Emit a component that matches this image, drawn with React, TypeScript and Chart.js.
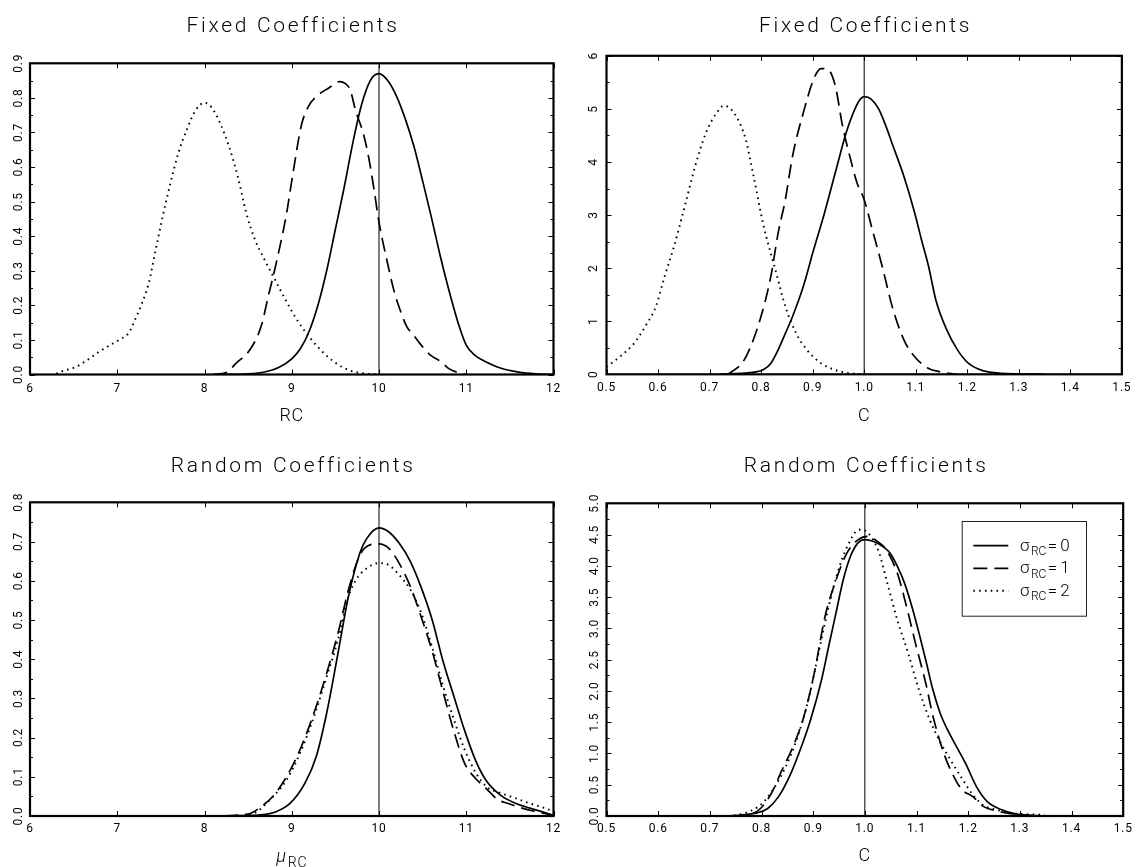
import React, { useEffect, useRef } from "react";
import { Chart, registerables } from "chart.js";

Chart.register(...registerables);

const FONT = "Roboto, 'DejaVu Sans', sans-serif";

// ---------- text ----------
const titleFixed = "Fixed Coefficients";
const titleRandom = "Random Coefficients";
const xTitleRC = "RC";
const xTitleC = "C";
const xTitleMu = "μ";
const xTitleMuSub = "RC";
const legendSymbol = "σ";
const legendSub = "RC";
const legendValues = ["0", "1", "2"];

// ---------- tick labels ----------
const rcXTickLabels = ["6", "7", "8", "9", "10", "11", "12"];
const cXTickLabels = ["0.5", "0.6", "0.7", "0.8", "0.9", "1.0", "1.1", "1.2", "1.3", "1.4", "1.5"];
const fixRcYTickLabels = ["0.0", "0.1", "0.2", "0.3", "0.4", "0.5", "0.6", "0.7", "0.8", "0.9"];
const fixCYTickLabels = ["0", "1", "2", "3", "4", "5", "6"];
const ranRcYTickLabels = ["0.0", "0.1", "0.2", "0.3", "0.4", "0.5", "0.6", "0.7", "0.8"];
const ranCYTickLabels = ["0.0", "0.5", "1.0", "1.5", "2.0", "2.5", "3.0", "3.5", "4.0", "4.5", "5.0"];

// ---------- reference (true value) lines ----------
const refRcX = [10, 10];
const refCX = [1, 1];
const fixRcRefY = [0, 0.9];
const fixCRefY = [0, 6];
const ranRcRefY = [0, 0.8];
const ranCRefY = [0, 5];

// ---------- Fixed Coefficients, RC ----------
const fixRcX0 = [8.1, 8.5, 8.7, 8.85, 9.0, 9.1, 9.2, 9.3, 9.4, 9.5, 9.6, 9.7, 9.8, 9.9, 10.0, 10.1, 10.2, 10.3, 10.4, 10.5, 10.6, 10.7, 10.8, 10.9, 11.0, 11.1, 11.2, 11.4, 11.6, 11.8, 12.0];
const fixRcY0 = [0, 0.002, 0.008, 0.02, 0.045, 0.075, 0.125, 0.2, 0.3, 0.42, 0.54, 0.67, 0.78, 0.85, 0.87, 0.85, 0.805, 0.74, 0.66, 0.56, 0.455, 0.345, 0.245, 0.155, 0.085, 0.055, 0.04, 0.018, 0.007, 0.002, 0];
const fixRcX1 = [8.1, 8.25, 8.36, 8.53, 8.65, 8.73, 8.82, 8.94, 9.0, 9.11, 9.19, 9.3, 9.42, 9.55, 9.61, 9.67, 9.73, 9.82, 9.88, 9.94, 10.0, 10.09, 10.17, 10.23, 10.32, 10.38, 10.5, 10.59, 10.71, 10.8, 10.94, 11.0];
const fixRcY1 = [0, 0.006, 0.032, 0.075, 0.14, 0.225, 0.32, 0.465, 0.56, 0.72, 0.775, 0.808, 0.828, 0.847, 0.842, 0.823, 0.765, 0.697, 0.63, 0.54, 0.44, 0.331, 0.244, 0.195, 0.138, 0.119, 0.08, 0.056, 0.037, 0.017, 0.003, 0];
const fixRcX2 = [6.3, 6.38, 6.51, 6.64, 6.77, 6.89, 7.02, 7.13, 7.21, 7.28, 7.36, 7.44, 7.52, 7.6, 7.7, 7.8, 7.9, 8.0, 8.08, 8.18, 8.28, 8.38, 8.48, 8.58, 8.68, 8.8, 8.92, 9.05, 9.2, 9.35, 9.5, 9.65, 9.8, 10.0];
const fixRcY2 = [0.002, 0.0104, 0.02, 0.039, 0.062, 0.081, 0.1, 0.12, 0.162, 0.204, 0.263, 0.36, 0.456, 0.543, 0.64, 0.71, 0.765, 0.786, 0.773, 0.726, 0.66, 0.574, 0.466, 0.389, 0.336, 0.278, 0.22, 0.162, 0.109, 0.066, 0.034, 0.013, 0.004, 0];

// ---------- Fixed Coefficients, C ----------
const fixCX0 = [0.72, 0.777, 0.805, 0.819, 0.833, 0.847, 0.861, 0.882, 0.902, 0.923, 0.944, 0.965, 0.979, 0.99, 1.0, 1.014, 1.028, 1.042, 1.056, 1.077, 1.098, 1.111, 1.125, 1.139, 1.16, 1.181, 1.202, 1.23, 1.265, 1.35];
const fixCY0 = [0, 0.03, 0.09, 0.21, 0.46, 0.77, 1.09, 1.66, 2.35, 3.04, 3.8, 4.55, 4.93, 5.15, 5.23, 5.18, 5.0, 4.68, 4.3, 3.73, 3.04, 2.54, 2.03, 1.4, 0.84, 0.46, 0.21, 0.07, 0.02, 0];
const fixCX1 = [0.735, 0.763, 0.777, 0.798, 0.819, 0.833, 0.847, 0.861, 0.882, 0.902, 0.916, 0.93, 0.944, 0.958, 0.972, 0.986, 1.0, 1.014, 1.035, 1.056, 1.077, 1.098, 1.125, 1.146, 1.18];
const fixCY1 = [0, 0.21, 0.46, 1.03, 1.85, 2.66, 3.29, 4.11, 4.93, 5.56, 5.76, 5.74, 5.43, 4.68, 4.11, 3.61, 3.29, 2.79, 2.03, 1.22, 0.65, 0.33, 0.11, 0.05, 0];
const fixCX2 = [0.5, 0.526, 0.554, 0.575, 0.596, 0.613, 0.631, 0.652, 0.672, 0.693, 0.714, 0.728, 0.749, 0.77, 0.784, 0.805, 0.826, 0.847, 0.868, 0.889, 0.916, 0.944, 0.972, 1.0];
const fixCY2 = [0.14, 0.33, 0.59, 0.9, 1.28, 1.85, 2.41, 3.17, 3.92, 4.55, 4.93, 5.06, 4.9, 4.43, 3.8, 2.79, 2.03, 1.28, 0.77, 0.46, 0.21, 0.08, 0.02, 0];

// ---------- Random Coefficients, mu_RC ----------
const ranRcX0 = [6.3, 7.0, 8.0, 8.4, 8.65, 8.82, 8.98, 9.15, 9.28, 9.4, 9.53, 9.65, 9.78, 9.86, 10.0, 10.11, 10.23, 10.36, 10.48, 10.61, 10.73, 10.86, 10.98, 11.11, 11.23, 11.4, 11.57, 11.73, 11.9, 12.0];
const ranRcY0 = [0, 0, 0, 0.001, 0.003, 0.011, 0.032, 0.083, 0.151, 0.262, 0.415, 0.56, 0.67, 0.708, 0.735, 0.725, 0.696, 0.649, 0.585, 0.5, 0.398, 0.304, 0.219, 0.14, 0.09, 0.052, 0.032, 0.02, 0.0085, 0.001];
const ranRcX1 = [6.3, 8.0, 8.5, 8.65, 8.78, 8.94, 9.11, 9.28, 9.4, 9.53, 9.65, 9.78, 9.88, 10.0, 10.11, 10.23, 10.36, 10.48, 10.61, 10.73, 10.86, 10.98, 11.11, 11.23, 11.36, 11.48, 11.61, 11.78, 12.0];
const ranRcY1 = [0, 0, 0.005, 0.024, 0.049, 0.1, 0.177, 0.279, 0.364, 0.466, 0.577, 0.665, 0.69, 0.694, 0.683, 0.645, 0.585, 0.51, 0.42, 0.32, 0.215, 0.135, 0.095, 0.07, 0.042, 0.032, 0.022, 0.012, 0.002];
const ranRcX2 = [8.45, 8.6, 8.73, 8.94, 9.11, 9.28, 9.4, 9.53, 9.65, 9.73, 9.86, 10.0, 10.11, 10.23, 10.36, 10.48, 10.61, 10.73, 10.86, 10.98, 11.11, 11.23, 11.4, 11.57, 11.73, 11.9, 12.0];
const ranRcY2 = [0, 0.011, 0.037, 0.092, 0.168, 0.27, 0.355, 0.449, 0.56, 0.6, 0.632, 0.645, 0.64, 0.615, 0.577, 0.52, 0.43, 0.335, 0.245, 0.17, 0.11, 0.075, 0.058, 0.045, 0.032, 0.02, 0.012];

// ---------- Random Coefficients, C ----------
const ranCX0 = [0.5, 0.7, 0.76, 0.791, 0.812, 0.833, 0.854, 0.875, 0.895, 0.916, 0.93, 0.944, 0.958, 0.972, 0.986, 1.0, 1.017, 1.035, 1.049, 1.063, 1.077, 1.091, 1.105, 1.118, 1.132, 1.146, 1.16, 1.174, 1.195, 1.216, 1.237, 1.265, 1.293, 1.32, 1.35];
const ranCY0 = [0, 0, 0.016, 0.05, 0.12, 0.31, 0.63, 1.06, 1.54, 2.17, 2.71, 3.24, 3.77, 4.15, 4.36, 4.42, 4.39, 4.31, 4.2, 3.99, 3.72, 3.35, 2.92, 2.49, 2.01, 1.64, 1.38, 1.16, 0.84, 0.47, 0.23, 0.1, 0.03, 0.01, 0];
const ranCX1 = [0.5, 0.75, 0.78, 0.798, 0.819, 0.84, 0.861, 0.882, 0.902, 0.923, 0.944, 0.965, 0.986, 1.007, 1.021, 1.042, 1.063, 1.084, 1.098, 1.118, 1.132, 1.153, 1.174, 1.188, 1.209, 1.23, 1.251, 1.279, 1.307, 1.33];
const ranCY1 = [0, 0, 0.03, 0.12, 0.36, 0.74, 1.11, 1.59, 2.28, 3.19, 3.77, 4.2, 4.41, 4.47, 4.41, 4.25, 3.88, 3.24, 2.76, 2.12, 1.59, 1.0, 0.6, 0.42, 0.31, 0.15, 0.09, 0.04, 0.016, 0];
const ranCX2 = [0.5, 0.73, 0.76, 0.784, 0.805, 0.826, 0.847, 0.868, 0.889, 0.909, 0.93, 0.951, 0.972, 0.986, 0.993, 1.007, 1.028, 1.042, 1.063, 1.084, 1.105, 1.125, 1.146, 1.167, 1.188, 1.209, 1.23, 1.251, 1.279, 1.307, 1.348];
const ranCY2 = [0, 0, 0.03, 0.1, 0.23, 0.47, 0.79, 1.22, 1.8, 2.55, 3.35, 3.99, 4.41, 4.57, 4.58, 4.52, 4.2, 3.77, 3.13, 2.6, 2.01, 1.55, 1.18, 0.88, 0.6, 0.34, 0.17, 0.11, 0.05, 0.03, 0.02];

// ---------- styles ----------
const seriesDash: number[][] = [[], [14, 7], [1.6, 4.2]];
const seriesWidth = [1.7, 1.7, 1.9];

type PanelSpec = {
  key: string;
  left: number;
  top: number;
  w: number;
  h: number;
  area: { left: number; right: number; top: number; bottom: number };
  xMin: number;
  xMax: number;
  yMax: number;
  xLabels: string[];
  yLabels: string[];
  yLabelPad: number;
  xLabelPad: number;
  title: string;
  titleBaseline: number;
  xTitle: string;
  xTitleSub?: string;
  xTitleOffset: number;
  series: { x: number[]; y: number[] }[];
  ref: { x: number[]; y: number[] };
  legend?: boolean;
};

const panels: PanelSpec[] = [
  {
    key: "fixRc", left: 0, top: 0, w: 568, h: 432,
    area: { left: 30, right: 553.5, top: 63.3, bottom: 374.5 },
    xMin: 6, xMax: 12, yMax: 0.9,
    xLabels: rcXTickLabels, yLabels: fixRcYTickLabels, yLabelPad: 2.5, xLabelPad: 6.8,
    title: titleFixed, titleBaseline: 31.7,
    xTitle: xTitleRC, xTitleOffset: 46.2,
    series: [{ x: fixRcX0, y: fixRcY0 }, { x: fixRcX1, y: fixRcY1 }, { x: fixRcX2, y: fixRcY2 }],
    ref: { x: refRcX, y: fixRcRefY },
  },
  {
    key: "fixC", left: 568, top: 0, w: 569, h: 432,
    area: { left: 38.5, right: 561, top: 55.8, bottom: 374.3 },
    xMin: 0.5, xMax: 1.5, yMax: 6,
    xLabels: cXTickLabels, yLabels: fixCYTickLabels, yLabelPad: 9.5, xLabelPad: 6.8,
    title: titleFixed, titleBaseline: 31.7,
    xTitle: xTitleC, xTitleOffset: 46.2,
    series: [{ x: fixCX0, y: fixCY0 }, { x: fixCX1, y: fixCY1 }, { x: fixCX2, y: fixCY2 }],
    ref: { x: refCX, y: fixCRefY },
  },
  {
    key: "ranRc", left: 0, top: 432, w: 568, h: 435,
    area: { left: 30, right: 553.5, top: 70.3, bottom: 384 },
    xMin: 6, xMax: 12, yMax: 0.8,
    xLabels: rcXTickLabels, yLabels: ranRcYTickLabels, yLabelPad: 2.7, xLabelPad: 5.5,
    title: titleRandom, titleBaseline: 39.7,
    xTitle: xTitleMu, xTitleSub: xTitleMuSub, xTitleOffset: 46,
    series: [{ x: ranRcX0, y: ranRcY0 }, { x: ranRcX1, y: ranRcY1 }, { x: ranRcX2, y: ranRcY2 }],
    ref: { x: refRcX, y: ranRcRefY },
  },
  {
    key: "ranC", left: 568, top: 432, w: 569, h: 435,
    area: { left: 38.5, right: 561, top: 71.3, bottom: 384 },
    xMin: 0.5, xMax: 1.5, yMax: 5,
    xLabels: cXTickLabels, yLabels: ranCYTickLabels, yLabelPad: 2.9, xLabelPad: 5.5,
    title: titleRandom, titleBaseline: 40,
    xTitle: xTitleC, xTitleOffset: 44.7,
    series: [{ x: ranCX0, y: ranCY0 }, { x: ranCX1, y: ranCY1 }, { x: ranCX2, y: ranCY2 }],
    ref: { x: refCX, y: ranCRefY },
    legend: true,
  },
];

function labelLookup(labels: string[]) {
  return (val: number | string) => {
    const v = Number(val);
    const i = labels.findIndex((l) => Math.abs(parseFloat(l) - v) < 1e-9);
    return i >= 0 ? labels[i] : "";
  };
}

function decorPlugin(spec: PanelSpec) {
  return {
    id: "decor_" + spec.key,
    beforeDraw(chart: any) {
      (chart.ctx as any).letterSpacing = "0.8px";
    },
    afterDraw(chart: any) {
      const ctx: CanvasRenderingContext2D = chart.ctx;
      const a = chart.chartArea;
      const xs = chart.scales.x;
      const ys = chart.scales.y;
      ctx.save();
      ctx.strokeStyle = "#000";
      ctx.fillStyle = "#000";
      ctx.setLineDash([]);

      // inward tick marks
      ctx.lineWidth = 1;
      ctx.beginPath();
      const yVals = spec.yLabels.map((l) => parseFloat(l));
      yVals.forEach((v, i) => {
        const p = Math.round(ys.getPixelForValue(v)) + 0.5;
        ctx.moveTo(a.left, p);
        ctx.lineTo(a.left + 5, p);
        ctx.moveTo(a.right, p);
        ctx.lineTo(a.right - 5, p);
        if (i < yVals.length - 1) {
          const q = Math.round(ys.getPixelForValue((v + yVals[i + 1]) / 2)) + 0.5;
          ctx.moveTo(a.left, q);
          ctx.lineTo(a.left + 3, q);
          ctx.moveTo(a.right, q);
          ctx.lineTo(a.right - 3, q);
        }
      });
      spec.xLabels.forEach((l) => {
        const p = Math.round(xs.getPixelForValue(parseFloat(l))) + 0.5;
        ctx.moveTo(p, a.bottom);
        ctx.lineTo(p, a.bottom - 5);
        ctx.moveTo(p, a.top);
        ctx.lineTo(p, a.top + 5);
      });
      ctx.stroke();

      // frame
      ctx.lineWidth = 2.2;
      ctx.strokeRect(a.left, a.top, a.right - a.left, a.bottom - a.top);

      const cx = (a.left + a.right) / 2;

      // title
      ctx.font = `300 21px ${FONT}`;
      (ctx as any).letterSpacing = "2.7px";
      ctx.textAlign = "center";
      ctx.textBaseline = "alphabetic";
      ctx.fillText(spec.title, cx + 1.35, spec.titleBaseline);

      // x axis title
      (ctx as any).letterSpacing = "0.8px";
      if (!spec.xTitleSub) {
        ctx.font = `300 18px ${FONT}`;
        ctx.textAlign = "center";
        ctx.fillText(spec.xTitle, cx, a.bottom + spec.xTitleOffset);
      } else {
        ctx.font = `italic 300 18px ${FONT}`;
        const w1 = ctx.measureText(spec.xTitle).width;
        ctx.font = `300 14px ${FONT}`;
        const w2 = ctx.measureText(spec.xTitleSub).width;
        const x0 = cx - (w1 + w2 + 1) / 2;
        ctx.textAlign = "left";
        ctx.font = `italic 300 18px ${FONT}`;
        ctx.fillText(spec.xTitle, x0, a.bottom + spec.xTitleOffset);
        ctx.font = `300 14px ${FONT}`;
        ctx.fillText(spec.xTitleSub, x0 + w1 + 1, a.bottom + spec.xTitleOffset + 4.6);
      }

      // legend
      if (spec.legend) {
        const bx = 393.7, by = 89, bw = 124.3, bh = 94.7;
        ctx.lineWidth = 1;
        ctx.strokeStyle = "#222";
        ctx.strokeRect(bx + 0.5, by + 0.5, bw, bh);
        const rows = [113.7, 136.3, 158.7];
        legendValues.forEach((val, i) => {
          const ly = rows[i];
          ctx.strokeStyle = "#000";
          ctx.lineWidth = i === 2 ? 1.9 : 1.7;
          ctx.setLineDash(seriesDash[i]);
          ctx.beginPath();
          ctx.moveTo(405.3, ly);
          ctx.lineTo(440.3, ly);
          ctx.stroke();
          ctx.setLineDash([]);
          ctx.textAlign = "left";
          (ctx as any).letterSpacing = "0px";
          ctx.font = `300 17px ${FONT}`;
          ctx.fillText(legendSymbol, 452, ly + 5);
          const ws = ctx.measureText(legendSymbol).width;
          ctx.font = `300 12px ${FONT}`;
          ctx.fillText(legendSub, 452 + ws + 1.5, ly + 9.3);
          const wsub = ctx.measureText(legendSub).width;
          (ctx as any).letterSpacing = "3px";
          ctx.font = `300 17px ${FONT}`;
          ctx.fillText("=" + val, 452 + ws + 1.5 + wsub + 1.5, ly + 5);
        });
      }
      ctx.restore();
    },
  };
}

function makeConfig(spec: PanelSpec): any {
  const datasets: any[] = spec.series.map((s, i) => ({
    data: s.x.map((x, j) => ({ x, y: s.y[j] })),
    borderColor: "#000",
    borderWidth: seriesWidth[i],
    borderDash: seriesDash[i],
    pointRadius: 0,
    fill: false,
    cubicInterpolationMode: "monotone",
  }));
  datasets.push({
    data: spec.ref.x.map((x, j) => ({ x, y: spec.ref.y[j] })),
    borderColor: "#000",
    borderWidth: 1,
    pointRadius: 0,
    fill: false,
    tension: 0,
  });
  const xLookup = labelLookup(spec.xLabels);
  const yLookup = labelLookup(spec.yLabels);
  const yAxisWidth = spec.area.left;
  const xAxisHeight = spec.h - spec.area.bottom;
  return {
    type: "line",
    data: { datasets },
    options: {
      animation: false,
      responsive: false,
      maintainAspectRatio: false,
      devicePixelRatio: 1,
      events: [],
      layout: { padding: { left: 0, bottom: 0, top: spec.area.top, right: spec.w - spec.area.right } },
      plugins: {
        legend: { display: false },
        title: { display: false },
        tooltip: { enabled: false },
      },
      scales: {
        x: {
          type: "linear",
          position: "bottom",
          min: spec.xMin,
          max: spec.xMax,
          grid: { display: false, drawTicks: false },
          border: { display: false },
          ticks: {
            autoSkip: false,
            maxRotation: 0,
            minRotation: 0,
            padding: spec.xLabelPad,
            color: "#000",
            font: { family: FONT, size: 12 },
            callback: (v: number) => xLookup(v),
          },
          afterBuildTicks: (s: any) => {
            s.ticks = spec.xLabels.map((l) => ({ value: parseFloat(l) }));
          },
          afterFit: (s: any) => {
            s.height = xAxisHeight;
          },
        },
        y: {
          type: "linear",
          position: "left",
          min: 0,
          max: spec.yMax,
          grid: { display: false, drawTicks: false },
          border: { display: false },
          ticks: {
            autoSkip: false,
            minRotation: 90,
            maxRotation: 90,
            crossAlign: "center",
            padding: spec.yLabelPad,
            color: "#000",
            font: { family: FONT, size: 12 },
            callback: (v: number) => yLookup(v),
          },
          afterBuildTicks: (s: any) => {
            s.ticks = spec.yLabels.map((l) => ({ value: parseFloat(l) }));
          },
          afterFit: (s: any) => {
            s.width = yAxisWidth;
          },
        },
      },
    },
    plugins: [decorPlugin(spec)],
  };
}

function Panel({ spec }: { spec: PanelSpec }) {
  const ref = useRef<HTMLCanvasElement | null>(null);
  useEffect(() => {
    if (!ref.current) return;
    const chart = new Chart(ref.current, makeConfig(spec));
    return () => chart.destroy();
  }, [spec]);
  return (
    <canvas
      ref={ref}
      width={spec.w}
      height={spec.h}
      style={{ position: "absolute", left: spec.left, top: spec.top, width: spec.w, height: spec.h, display: "block" }}
    />
  );
}

export default function App() {
  return (
    <div style={{ position: "absolute", left: 0, top: 0, width: 1137, height: 867, background: "#fff", overflow: "hidden" }}>
      {panels.map((p) => (
        <Panel key={p.key} spec={p} />
      ))}
    </div>
  );
}
